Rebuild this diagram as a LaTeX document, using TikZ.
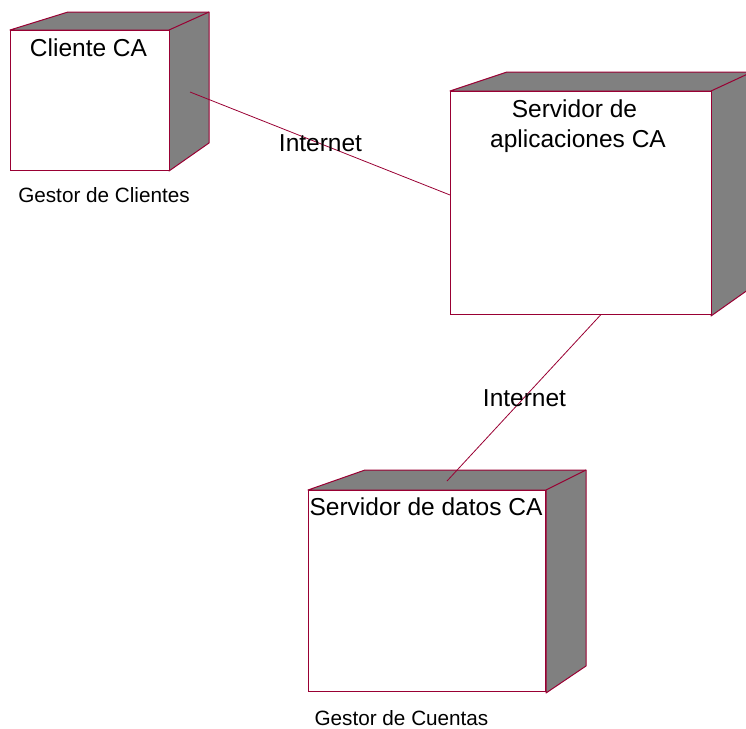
\documentclass[tikz,border=0pt]{standalone}
\usepackage{fontspec}
\setmainfont{Liberation Sans}
\definecolor{edge}{HTML}{990033}
\definecolor{shade}{HTML}{808080}
\tikzset{
  x=1pt,y=-1pt,
  front/.style={draw=edge,fill=white,line width=1.1pt,rectangle,inner sep=0pt,minimum width=#1},
  side/.style={draw=edge,fill=shade,line width=1pt,line join=round},
  link/.style={draw=edge,line width=0.8pt},
  big/.style={inner sep=0pt,anchor=base,text=black,font=\fontsize{24.5}{30}\selectfont},
  small/.style={inner sep=0pt,anchor=base,text=black,font=\fontsize{20.7}{24}\selectfont},
}
\begin{document}
\begin{tikzpicture}
\useasboundingbox[clip] (0,0) rectangle (746,728);
% node 1
\path[side] (10,30) -- (68,12) -- (209,12) -- (209,143) -- (169,171) -- (169,30) -- cycle;
\draw[side] (169,30) -- (209,12);
\node[front=159pt,minimum height=140pt,anchor=north west] (cliente) at (10,30) {};
% node 2
\path[side] (450,91) -- (507,72) -- (752,72) -- (752,287) -- (711,316) -- (711,91) -- cycle;
\draw[side] (711,91) -- (752,72);
\node[front=261pt,minimum height=223pt,anchor=north west] (aplic) at (450,91) {};
% node 3
\path[side] (308,490) -- (365,470) -- (586,470) -- (586,666) -- (546,693) -- (546,490) -- cycle;
\draw[side] (546,490) -- (586,470);
\node[front=237pt,minimum height=201pt,anchor=north west] (datos) at (308,490) {};
% connector ends
\coordinate (c1) at (190,92);
\coordinate (a1) at (aplic.west |- 0,195);
\coordinate (a2) at (601,314.5);
\coordinate (d1) at (447,481);
\draw[link] (c1) -- (a1);
\draw[link] (a2) -- (d1);
% labels
\node[big] (t1) at (88.5,56) {Cliente CA};
\node[big,align=center] (t2) at (578,147) {Servidor de\hspace*{7pt}\\aplicaciones CA};
\node[big] (t3) at (426,515) {Servidor de datos CA};
\node[big] (i1) at (320.5,151) {Internet};
\node[big] (i2) at (524.5,406) {Internet};
\node[small] (g1) at (104,202) {Gestor de Clientes};
\node[small] (g2) at (401.5,725) {Gestor de Cuentas};
\end{tikzpicture}
\end{document}
